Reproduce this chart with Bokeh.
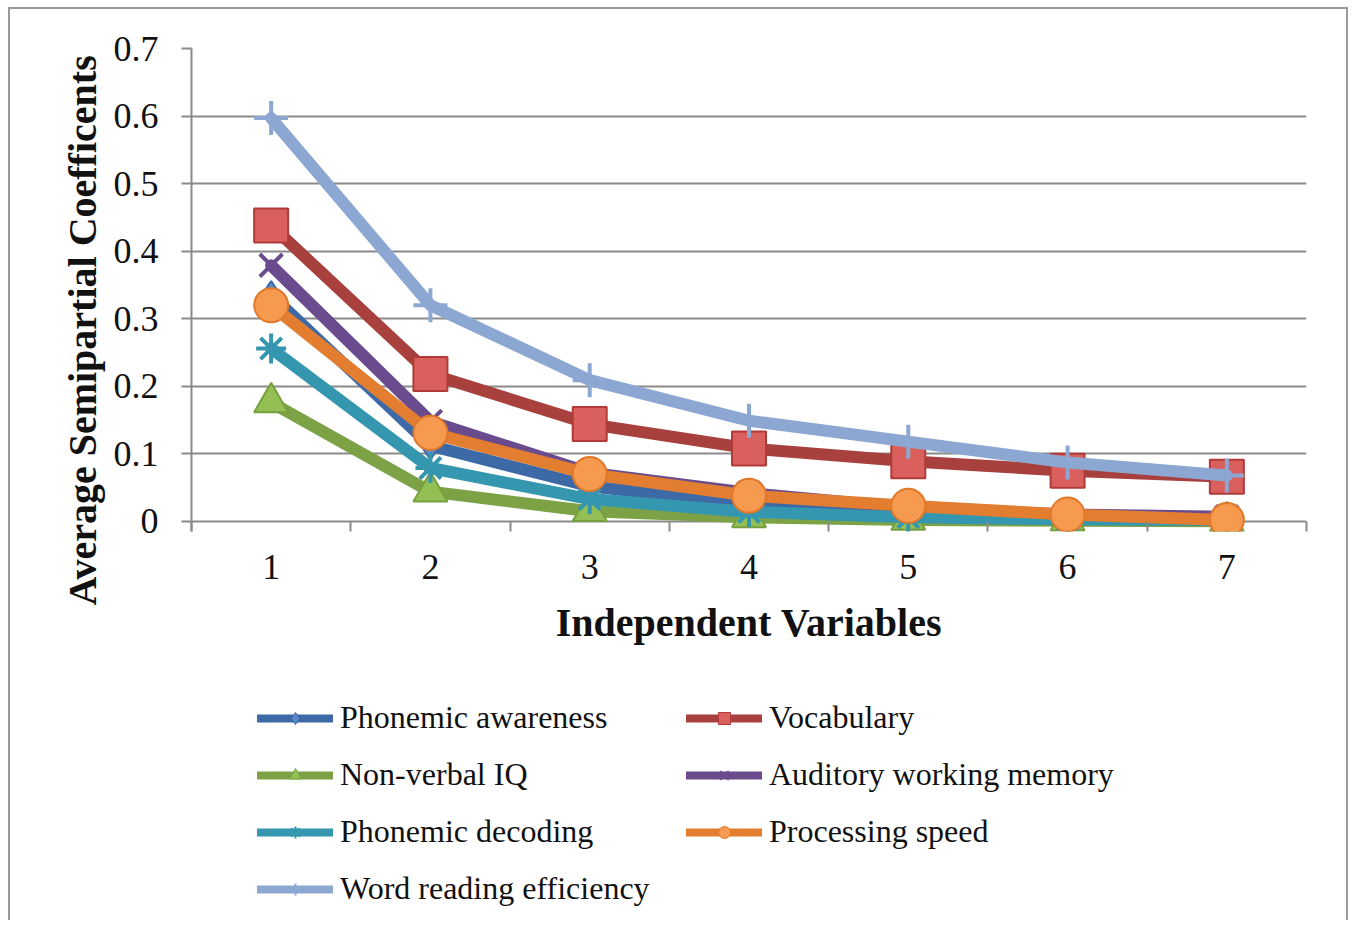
from bokeh.plotting import figure
from bokeh.layouts import column
from bokeh.models import Range1d, FixedTicker, Legend, LegendItem, Title
from bokeh.embed import file_html
from bokeh.resources import INLINE

# ---------------- data ----------------
x_values = [1, 2, 3, 4, 5, 6, 7]
x_tick_labels = ["1", "2", "3", "4", "5", "6", "7"]
y_ticks = [0.0, 0.1, 0.2, 0.3, 0.4, 0.5, 0.6, 0.7]
y_tick_labels = ["0", "0.1", "0.2", "0.3", "0.4", "0.5", "0.6", "0.7"]

series_names = [
    "Phonemic awareness",
    "Vocabulary",
    "Non-verbal IQ",
    "Auditory working memory",
    "Phonemic decoding",
    "Processing speed",
    "Word reading efficiency",
]
phonemic_awareness = [0.335, 0.112, 0.052, 0.025, 0.012, 0.006, 0.004]
vocabulary = [0.438, 0.218, 0.144, 0.108, 0.089, 0.075, 0.066]
non_verbal_iq = [0.176, 0.044, 0.015, 0.006, 0.002, 0.001, 0.0]
auditory_working_memory = [0.379, 0.148, 0.072, 0.042, 0.02, 0.01, 0.007]
phonemic_decoding = [0.256, 0.079, 0.033, 0.014, 0.006, 0.003, 0.002]
processing_speed = [0.32, 0.131, 0.07, 0.038, 0.023, 0.01, 0.002]
word_reading_efficiency = [0.597, 0.32, 0.209, 0.149, 0.118, 0.087, 0.068]

series_values = [
    phonemic_awareness,
    vocabulary,
    non_verbal_iq,
    auditory_working_memory,
    phonemic_decoding,
    processing_speed,
    word_reading_efficiency,
]

x_title = "Independent Variables"
y_title = "Average Semipartial Coefficents"

# ---------------- styles ----------------
styles = [
    dict(line="#3D6AA6", marker="diamond", fill="#5B8BC8", mline="#3D6AA6", size=28, mlw=2),
    dict(line="#A8403D", marker="square", fill="#D9605C", mline="#B03B38", size=34, mlw=2),
    dict(line="#7CA245", marker="triangle", fill="#93BF55", mline="#77A03D", size=34, mlw=2),
    dict(line="#6A4C8E", marker="x", fill=None, mline="#6A4C8E", size=32, mlw=4),
    dict(line="#3596AF", marker="asterisk", fill=None, mline="#3596AF", size=30, mlw=4),
    dict(line="#E37D30", marker="circle", fill="#F69A50", mline="#E2782A", size=34, mlw=2),
    dict(line="#8DA7D3", marker="cross", fill=None, mline="#8DA7D3", size=34, mlw=4),
]

SERIF = "Liberation Serif"
GRAY = "#8a8a8a"


def add_series(fig, line_width, marker_line_scale=1.0):
    rs = []
    for vals, st in zip(series_values, styles):
        lr = fig.line(x_values, vals, line_color=st["line"], line_width=line_width,
                      line_join="round", line_cap="round")
        kw = dict(marker=st["marker"], size=st["size"], line_color=st["mline"],
                  line_width=st["mlw"] * marker_line_scale)
        if st["fill"] is None:
            kw["fill_alpha"] = 0
        else:
            kw["fill_color"] = st["fill"]
        sr = fig.scatter(x_values, vals, **kw)
        rs.append((lr, sr))
    return rs


# ---------------- main chart ----------------
p = figure(
    width=1336,
    height=660,
    x_range=Range1d(0.5, 7.5),
    y_range=Range1d(-0.015, 0.7),
    output_backend="svg",
    toolbar_location=None,
    min_border_left=181,
    min_border_right=40,
    min_border_top=39,
    min_border_bottom=138,
)
p.outline_line_color = None
p.background_fill_color = "white"
p.border_fill_color = "white"

p.xgrid.visible = False
p.ygrid.ticker = FixedTicker(ticks=y_ticks)
p.ygrid.grid_line_color = GRAY
p.ygrid.grid_line_width = 2

xa = p.xaxis[0]
minor = [v - 0.5 for v in x_values] + [x_values[-1] + 0.5]
xa.ticker = FixedTicker(ticks=x_values, minor_ticks=minor)
xa.major_label_overrides = {v: s for v, s in zip(x_values, x_tick_labels)}
xa.major_tick_out = 0
xa.major_tick_in = 0
xa.minor_tick_out = 0
xa.minor_tick_in = 10
xa.minor_tick_line_color = GRAY
xa.minor_tick_line_width = 2
xa.axis_line_color = None
xa.major_label_text_font = SERIF
xa.major_label_text_font_size = "36px"
xa.major_label_text_color = "#111111"
xa.major_label_standoff = 23
xa.axis_label = x_title
xa.axis_label_text_font = SERIF
xa.axis_label_text_font_style = "bold"
xa.axis_label_text_font_size = "40px"
xa.axis_label_text_color = "#111111"
xa.axis_label_standoff = 18

ya = p.yaxis[0]
ya.ticker = FixedTicker(ticks=y_ticks, minor_ticks=[])
ya.major_label_overrides = {v: s for v, s in zip(y_ticks, y_tick_labels)}
ya.major_tick_out = 10
ya.major_tick_in = 0
ya.major_tick_line_color = GRAY
ya.major_tick_line_width = 2
ya.minor_tick_line_color = None
ya.axis_line_color = GRAY
ya.axis_line_width = 2
ya.major_label_text_font = SERIF
ya.major_label_text_font_size = "36px"
ya.major_label_text_color = "#111111"
ya.major_label_standoff = 23

p.add_layout(Title(
    text=y_title, align="left", offset=-74, standoff=12,
    text_font=SERIF, text_font_style="bold", text_font_size="40px",
    text_color="#111111",
), "left")

add_series(p, 12)

# ---------------- legend strip (same series, drawn off-range) ----------------
lg = figure(
    width=1336,
    height=251,
    x_range=Range1d(100, 101),
    y_range=Range1d(100, 101),
    x_axis_location=None,
    y_axis_location=None,
    output_backend="svg",
    toolbar_location=None,
    min_border=0,
)
lg.grid.visible = False
lg.outline_line_color = None
lg.background_fill_color = "white"
lg.border_fill_color = "white"
lg_renderers = add_series(lg, 8, 0.5)

items = [LegendItem(label=name, renderers=[lr, sr])
         for name, (lr, sr) in zip(series_names, lg_renderers)]
legend = Legend(
    items=items,
    orientation="horizontal",
    ncols=2,
    location=(66, 13),
    glyph_width=76,
    glyph_height=30,
    label_height=30,
    label_width=326,
    label_standoff=7,
    spacing=20,
    padding=10,
    margin=0,
    label_text_font=SERIF,
    label_text_font_size="32px",
    label_text_color="#111111",
    border_line_color=None,
    background_fill_alpha=0,
)
lg.add_layout(legend, "center")

layout = column(p, lg, spacing=0)
layout.styles = {
    "margin-left": "8px",
    "margin-top": "7px",
    "border-top": "2px solid #9a9a9a",
    "border-left": "2px solid #9a9a9a",
    "border-right": "2px solid #9a9a9a",
}

open("out.html", "w").write(file_html(layout, INLINE))
